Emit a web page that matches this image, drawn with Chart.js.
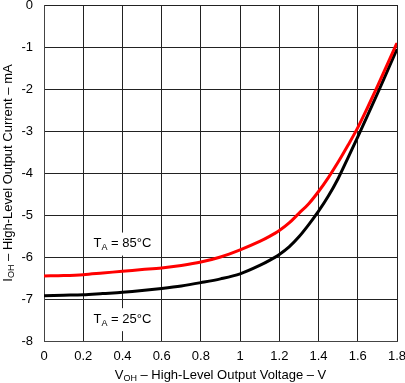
<!DOCTYPE html>
<html>
<head>
<meta charset="utf-8">
<script src="https://cdn.jsdelivr.net/npm/chart.js@4.4.1/dist/chart.umd.min.js"></script>
<style>
  html, body { margin: 0; padding: 0; background: #fff; }
  #wrap { position: relative; width: 405px; height: 383px; }
</style>
</head>
<body>
<div id="wrap"><canvas id="chart"></canvas></div>
<script>
// V_OH in volts
const voltage = [0, 0.1, 0.2, 0.3, 0.4, 0.5, 0.6, 0.7, 0.8, 0.9, 1.0, 1.1, 1.15, 1.2, 1.25,
                 1.3, 1.35, 1.4, 1.45, 1.5, 1.55, 1.6, 1.65, 1.7, 1.75, 1.8];
// I_OH in mA, TA = 25°C
const current25 = [-6.92, -6.91, -6.90, -6.87, -6.84, -6.80, -6.75, -6.69, -6.61, -6.52, -6.40, -6.20, -6.08, -5.94, -5.76,
                   -5.52, -5.23, -4.91, -4.55, -4.13, -3.64, -3.14, -2.63, -2.11, -1.58, -1.05];
// I_OH in mA, TA = 85°C
const current85 = [-6.45, -6.44, -6.42, -6.38, -6.34, -6.30, -6.26, -6.20, -6.12, -6.00, -5.83, -5.63, -5.51, -5.37, -5.19,
                   -4.96, -4.73, -4.44, -4.11, -3.74, -3.34, -2.92, -2.44, -1.94, -1.42, -0.90];

const xTicks = [0, 0.2, 0.4, 0.6, 0.8, 1, 1.2, 1.4, 1.6, 1.8];
const yTicks = [-8, -7, -6, -5, -4, -3, -2, -1, 0];

const FONT = "'Liberation Sans', Arial, sans-serif";

function toPoints(xs, ys) {
    return xs.map((x, i) => ({ x: x, y: ys[i] }));
}

// text with subscripts, parts = [[text, isSub], ...]
function drawRich(ctx, parts, x, y, size) {
    const subSize = Math.round(size * 0.72);
    let total = 0;
    parts.forEach(p => {
        ctx.font = (p[1] ? subSize : size) + 'px ' + FONT;
        total += ctx.measureText(p[0]).width;
    });
    let cx = x - total / 2;
    ctx.textAlign = 'left';
    ctx.textBaseline = 'middle';
    parts.forEach(p => {
        ctx.font = (p[1] ? subSize : size) + 'px ' + FONT;
        ctx.fillText(p[0], cx, p[1] ? y + size * 0.3 : y);
        cx += ctx.measureText(p[0]).width;
    });
    return total;
}

const annotations = {
    id: 'annotations',
    afterDatasetsDraw(chart) {
        const ctx = chart.ctx;
        const xs = chart.scales.x, ys = chart.scales.y;
        const area = chart.chartArea;
        ctx.save();
        ctx.fillStyle = '#000';

        // temperature labels with white boxes over the grid
        const labels = [
            { x: 0.4, y: -5.68, parts: [['T', false], ['A', true], [' = 85°C', false]] },
            { x: 0.4, y: -7.48, parts: [['T', false], ['A', true], [' = 25°C', false]] }
        ];
        labels.forEach(l => {
            const px = xs.getPixelForValue(l.x);
            const py = ys.getPixelForValue(l.y);
            ctx.globalAlpha = 0;
            const w = drawRich(ctx, l.parts, px, py, 13);
            ctx.globalAlpha = 1;
            ctx.fillStyle = '#fff';
            ctx.fillRect(px - w / 2 - 2, py - 11, w + 4, 23);
            ctx.fillStyle = '#000';
            drawRich(ctx, l.parts, px, py, 13);
        });

        // axis titles
        drawRich(ctx, [['V', false], ['OH', true], [' – High-Level Output Voltage – V', false]],
            (area.left + area.right) / 2, 375, 13);

        ctx.translate(8, (area.top + area.bottom) / 2);
        ctx.rotate(-Math.PI / 2);
        drawRich(ctx, [['I', false], ['OH', true], [' – High-Level Output Current – mA', false]], 0, 0, 13);
        ctx.restore();
    }
};

new Chart(document.getElementById('chart'), {
    type: 'line',
    data: {
        datasets: [
            {
                label: 'TA = 85°C',
                data: toPoints(voltage, current85),
                borderColor: '#ff0000',
                borderWidth: 3,
                pointRadius: 0,
                cubicInterpolationMode: 'monotone'
            },
            {
                label: 'TA = 25°C',
                data: toPoints(voltage, current25),
                borderColor: '#000000',
                borderWidth: 3,
                pointRadius: 0,
                cubicInterpolationMode: 'monotone'
            }
        ]
    },
    options: {
        responsive: true,
        maintainAspectRatio: false,
        animation: false,
        layout: { padding: { top: 5, right: 8, left: 0, bottom: 0 } },
        plugins: {
            legend: { display: false },
            tooltip: { enabled: false }
        },
        scales: {
            x: {
                type: 'linear',
                min: 0,
                max: 1.8,
                afterBuildTicks: s => { s.ticks = xTicks.map(v => ({ value: v })); },
                afterFit: s => { s.height = 42; s.paddingLeft = 0; s.paddingRight = 0; },
                ticks: {
                    autoSkip: false,
                    maxRotation: 0,
                    padding: 8,
                    color: '#000',
                    font: { family: FONT, size: 13 },
                    callback: v => String(v)
                },
                grid: { color: '#222', lineWidth: 1, drawTicks: false },
                border: { color: '#444', width: 1 }
            },
            y: {
                min: -8,
                max: 0,
                afterBuildTicks: s => { s.ticks = yTicks.map(v => ({ value: v })); },
                afterFit: s => { s.width = 44; s.paddingTop = 0; s.paddingBottom = 0; },
                ticks: {
                    padding: 11,
                    color: '#000',
                    font: { family: FONT, size: 13 },
                    callback: v => String(v)
                },
                grid: { color: '#222', lineWidth: 1, drawTicks: false },
                border: { color: '#444', width: 1 }
            }
        }
    },
    plugins: [annotations]
});
</script>
</body>
</html>
